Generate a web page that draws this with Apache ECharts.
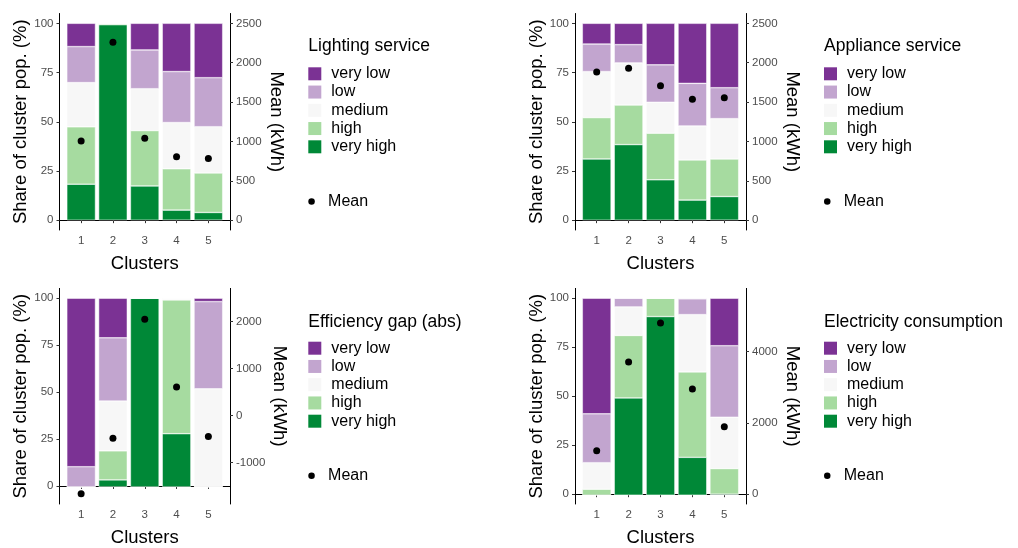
<!DOCTYPE html>
<html>
<head>
<meta charset="utf-8">
<script src="https://cdn.jsdelivr.net/npm/echarts@6/dist/echarts.min.js"></script>
<style>
html,body{margin:0;padding:0;background:#fff;}
#chart{width:1018px;height:548px;}
</style>
</head>
<body>
<div id="chart"></div>
<script>
// ---------- data ----------
const categories = ['1', '2', '3', '4', '5'];
const levels = ['very low', 'low', 'medium', 'high', 'very high'];
const levelColors = ['#7b3294', '#c2a5cf', '#f7f7f7', '#a6dba0', '#008837'];

// Lighting service (share of cluster pop., %)
const lightVeryLow  = [11.8, 0.0, 13.5, 24.5, 27.6];
const lightLow      = [18.3, 0.0, 19.7, 25.9, 24.9];
const lightMedium   = [22.5, 0.0, 21.3, 23.5, 23.5];
const lightHigh     = [29.1, 0.7, 28.1, 21.0, 20.1];
const lightVeryHigh = [18.3, 99.3, 17.4, 5.1, 3.9];
const lightMean     = [1006, 2259, 1041, 807, 782];

// Appliance service
const applVeryLow  = [10.5, 10.8, 21.1, 30.5, 32.7];
const applLow      = [14.0, 9.3, 19.0, 21.6, 15.7];
const applMedium   = [23.4, 21.4, 15.7, 17.3, 20.5];
const applHigh     = [21.0, 20.1, 23.7, 20.4, 19.1];
const applVeryHigh = [31.1, 38.4, 20.5, 10.2, 12.0];
const applMean     = [1882, 1929, 1708, 1535, 1556];

// Efficiency gap (abs)
const effVeryLow  = [89.3, 21.0, 0.0, 0.0, 1.8];
const effLow      = [10.7, 33.5, 0.0, 0.0, 46.2];
const effMedium   = [0.0, 26.4, 0.0, 0.9, 52.0];
const effHigh     = [0.0, 15.4, 0.0, 70.9, 0.0];
const effVeryHigh = [0.0, 3.7, 100.0, 28.2, 0.0];
const effMean     = [-1668, -484, 2052, 608, -448];

// Electricity consumption
const elecVeryLow  = [58.7, 0.0, 0.0, 0.3, 24.1];
const elecLow      = [24.8, 4.4, 0.0, 8.0, 36.3];
const elecMedium   = [13.5, 14.5, 0.0, 29.1, 26.1];
const elecHigh     = [3.0, 31.7, 9.3, 43.4, 13.0];
const elecVeryHigh = [0.0, 49.4, 90.7, 19.2, 0.5];
const elecMean     = [1216, 3708, 4804, 2949, 1892];

// tick labels
const shareTicks = [0, 25, 50, 75, 100];
const lightMeanTicks = [0, 500, 1000, 1500, 2000, 2500];
const applMeanTicks = [0, 500, 1000, 1500, 2000, 2500];
const effMeanTicks = [-1000, 0, 1000, 2000];
const elecMeanTicks = [0, 2000, 4000];

// ---------- layout / styles ----------
const FONT = "'Liberation Sans', Arial, Helvetica, sans-serif";
const X_MIN = 0.32, X_MAX = categories.length + 0.68;
const panels = [
  { title: 'Lighting service', shares: [lightVeryLow, lightLow, lightMedium, lightHigh, lightVeryHigh], mean: lightMean, meanTicks: lightMeanTicks,
    grid: { left: 59.5, top: 13.5, width: 170.5, height: 216.5 }, yMin: -5, yMax: 105, factor: 25, offset: 0,
    legLeft: 308.3, titleTop: 37.5, legTop: 65.8, meanTop: 193.5 },
  { title: 'Appliance service', shares: [applVeryLow, applLow, applMedium, applHigh, applVeryHigh], mean: applMean, meanTicks: applMeanTicks,
    grid: { left: 575, top: 13.5, width: 171, height: 216.5 }, yMin: -5, yMax: 105, factor: 25, offset: 0,
    legLeft: 824, titleTop: 37.5, legTop: 65.8, meanTop: 193.5 },
  { title: 'Efficiency gap (abs)', shares: [effVeryLow, effLow, effMedium, effHigh, effVeryHigh], mean: effMean, meanTicks: effMeanTicks,
    grid: { left: 59.5, top: 288.4, width: 170.5, height: 216.6 }, yMin: -9.6, yMax: 105.2, factor: 40, offset: 37.5,
    legLeft: 308.3, titleTop: 313.5, legTop: 340.2, meanTop: 467.8 },
  { title: 'Electricity consumption', shares: [elecVeryLow, elecLow, elecMedium, elecHigh, elecVeryHigh], mean: elecMean, meanTicks: elecMeanTicks,
    grid: { left: 575, top: 288.4, width: 171, height: 216.6 }, yMin: -5, yMax: 105, factor: 55, offset: 0,
    legLeft: 824, titleTop: 313.5, legTop: 340.2, meanTop: 467.8 }
];

const axisLineStyle = { show: true, lineStyle: { color: '#000', width: 1 } };
const tickStyle = { show: true, length: 3, lineStyle: { color: '#333', width: 1 } };
const tickLabel = { color: '#4d4d4d', fontSize: 11.5, fontFamily: FONT };
const nameStyle = { color: '#000', fontSize: 18.5, fontFamily: FONT };
const plain = v => String(v);

const option = {
  animation: false,
  backgroundColor: '#fff',
  title: [], grid: [], xAxis: [], yAxis: [], legend: [], series: []
};

panels.forEach((p, i) => {
  const g = p.grid;
  const unit = g.width / (X_MAX - X_MIN);
  // outer grid: axes + mean points
  option.grid.push({ left: g.left, top: g.top, width: g.width, height: g.height });
  // inner grid: category bands for the stacked bars (same vertical extent)
  option.grid.push({ left: g.left + (0.5 - X_MIN) * unit, top: g.top, width: categories.length * unit, height: g.height });

  option.xAxis.push({
    type: 'value', gridIndex: 2 * i, min: X_MIN, max: X_MAX,
    name: 'Clusters', nameLocation: 'middle', nameGap: 24, nameTextStyle: nameStyle,
    axisLine: axisLineStyle,
    axisTick: Object.assign({ customValues: categories.map((c, k) => k + 1) }, tickStyle),
    axisLabel: Object.assign({ customValues: categories.map((c, k) => k + 1), margin: 5,
      formatter: v => categories[Math.round(v) - 1] }, tickLabel),
    splitLine: { show: false }
  });
  option.xAxis.push({
    type: 'category', gridIndex: 2 * i + 1, data: categories, boundaryGap: true, show: false
  });

  option.yAxis.push({
    type: 'value', gridIndex: 2 * i, position: 'left', min: p.yMin, max: p.yMax,
    name: 'Share of cluster pop. (%)', nameLocation: 'middle', nameGap: 29, nameRotate: 90, nameTextStyle: nameStyle,
    axisLine: axisLineStyle,
    axisTick: Object.assign({ customValues: shareTicks }, tickStyle),
    axisLabel: Object.assign({ customValues: shareTicks, margin: 6, formatter: plain }, tickLabel),
    splitLine: { show: false }
  });
  option.yAxis.push({
    type: 'value', gridIndex: 2 * i, position: 'right',
    min: (p.yMin - p.offset) * p.factor, max: (p.yMax - p.offset) * p.factor,
    name: 'Mean (kWh)', nameLocation: 'middle', nameGap: 37, nameRotate: -90, nameTextStyle: nameStyle,
    axisLine: axisLineStyle,
    axisTick: Object.assign({ customValues: p.meanTicks }, tickStyle),
    axisLabel: Object.assign({ customValues: p.meanTicks, margin: 6, formatter: plain }, tickLabel),
    splitLine: { show: false }
  });
  option.yAxis.push({
    type: 'value', gridIndex: 2 * i + 1, min: p.yMin, max: p.yMax, show: false, splitLine: { show: false }
  });

  // stacked bars: bottom = very high ... top = very low
  for (let L = levels.length - 1; L >= 0; L--) {
    option.series.push({
      type: 'bar', name: levels[L], xAxisIndex: 2 * i + 1, yAxisIndex: 3 * i + 2, stack: 'panel' + i,
      barWidth: '90%',
      itemStyle: { color: levelColors[L], borderColor: '#fff', borderWidth: 0.5 },
      emphasis: { disabled: true },
      data: p.shares[L]
    });
  }
  option.series.push({
    type: 'scatter', name: 'Mean', xAxisIndex: 2 * i, yAxisIndex: 3 * i + 1, z: 5,
    symbol: 'circle', symbolSize: 7, itemStyle: { color: '#000', opacity: 1 },
    emphasis: { disabled: true },
    data: p.mean.map((v, k) => [k + 1, v])
  });
  option.title.push({
    text: p.title, left: p.legLeft, top: p.titleTop, padding: 0,
    textStyle: { color: '#000', fontSize: 17.5, fontWeight: 'normal', fontFamily: FONT }
  });
  option.legend.push({
    orient: 'vertical', left: p.legLeft, top: p.legTop, padding: 0,
    itemWidth: 13, itemHeight: 13, itemGap: 2.25, selectedMode: false,
    data: levels.map((n, k) => ({ name: n, icon: 'rect', itemStyle: { color: levelColors[k], borderWidth: 0 } })),
    textStyle: { color: '#000', fontSize: 16, lineHeight: 13, fontFamily: FONT, padding: [0, 0, 0, 5] }
  });
  option.legend.push({
    orient: 'vertical', left: p.legLeft, top: p.meanTop, padding: 0,
    itemWidth: 13, itemHeight: 6.5, selectedMode: false,
    data: [{ name: 'Mean', icon: 'circle', itemStyle: { color: '#000', opacity: 1 } }],
    textStyle: { color: '#000', fontSize: 16, lineHeight: 13, fontFamily: FONT, padding: [0, 0, 0, 5] }
  });
});

const chart = echarts.init(document.getElementById('chart'), null, { renderer: 'canvas' });
chart.setOption(option);
</script>
</body>
</html>
